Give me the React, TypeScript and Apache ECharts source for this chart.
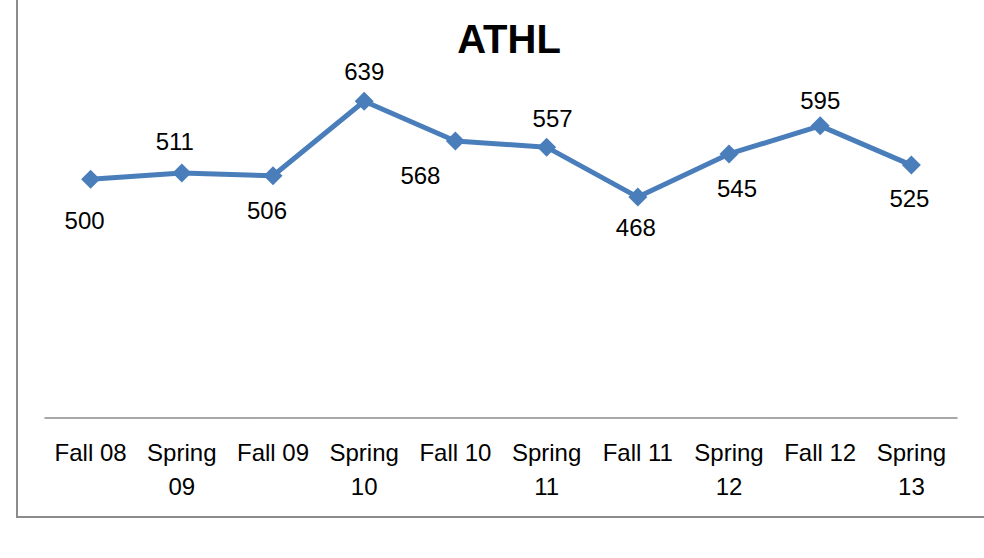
import React, { useEffect, useRef } from "react";
import * as echarts from "echarts";

const categories = ["Fall 08", "Spring\n09", "Fall 09", "Spring\n10", "Fall 10", "Spring\n11", "Fall 11", "Spring\n12", "Fall 12", "Spring\n13"];
const values = [500, 511, 506, 639, 568, 557, 468, 545, 595, 525];
const labelOffsets = [[-6, 41], [-7, -31], [-6, 35], [0, -30], [-35, 34], [6, -29], [-2, 30], [8, 35], [0, -25], [-2, 33]];

export default function App() {
  const ref = useRef<HTMLDivElement>(null);
  useEffect(() => {
    if (!ref.current) return;
    const chart = echarts.init(ref.current, null, { renderer: "svg" });
    const font = "'Liberation Sans', Arial, sans-serif";
    chart.setOption({
      animation: false,
      backgroundColor: "#ffffff",
      title: {
        text: "ATHL",
        left: 504,
        top: 14,
        textAlign: "center",
        textStyle: { fontFamily: font, fontSize: 40, fontWeight: "bold", color: "#000000" },
      },
      graphic: [
        {
          type: "rect",
          shape: { x: 17, y: -10, width: 1000, height: 527 },
          style: { fill: "none", stroke: "#8c8c8c", lineWidth: 2 },
          silent: true,
        },
      ],
      grid: { left: 45, right: 27, top: 67, bottom: 140 },
      xAxis: {
        type: "category",
        data: categories,
        boundaryGap: true,
        axisLine: { show: true, lineStyle: { color: "#8c8c8c", width: 1.5 } },
        axisTick: { show: false },
        axisLabel: {
          fontFamily: font,
          fontSize: 24,
          color: "#000000",
          lineHeight: 34,
          margin: 17,
          interval: 0,
        },
      },
      yAxis: {
        type: "value",
        min: 74,
        max: 700,
        show: false,
        splitLine: { show: false },
      },
      series: [
        {
          type: "line",
          data: values.map((v, i) => ({
            value: v,
            label: {
              show: true,
              position: "inside",
              offset: labelOffsets[i],
              formatter: "{c}",
              fontFamily: font,
              fontSize: 24,
              color: "#000000",
            },
          })),
          symbol: "diamond",
          symbolSize: 19,
          lineStyle: { color: "#4a7ebb", width: 5 },
          itemStyle: { color: "#4a7ebb" },
        },
      ],
    });
    return () => chart.dispose();
  }, []);
  return <div ref={ref} style={{ position: "absolute", left: 0, top: 0, width: 984, height: 558 }} />;
}
